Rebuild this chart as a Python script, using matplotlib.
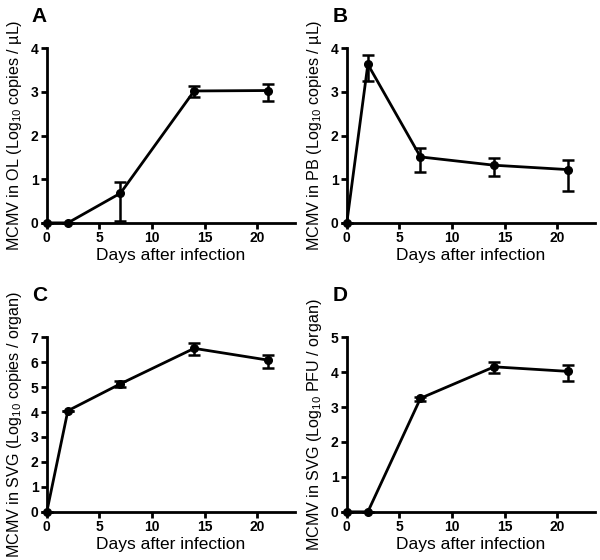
import matplotlib
matplotlib.use("Agg")
import matplotlib.pyplot as plt

plt.rcParams['font.family'] = ['Liberation Sans', 'DejaVu Sans']
plt.rcParams['mathtext.fontset'] = 'custom'
plt.rcParams['mathtext.rm'] = 'Liberation Sans'

days = [0, 2, 7, 14, 21]

# A: oral lavage
ol_mean = [0, 0, 0.68, 3.02, 3.03]
ol_lo = [0, 0, 0.63, 0.14, 0.25]
ol_hi = [0, 0, 0.25, 0.11, 0.16]

# B: peripheral blood
pb_mean = [0, 3.63, 1.51, 1.32, 1.22]
pb_lo = [0, 0.39, 0.35, 0.25, 0.50]
pb_hi = [0, 0.21, 0.20, 0.17, 0.23]

# C: SVG copies
svg_mean = [0, 4.05, 5.13, 6.55, 6.08]
svg_lo = [0, 0, 0.13, 0.27, 0.33]
svg_hi = [0, 0, 0.12, 0.20, 0.22]

# D: SVG PFU
pfu_mean = [0, 0, 3.25, 4.15, 4.02]
pfu_lo = [0, 0, 0.08, 0.18, 0.27]
pfu_hi = [0, 0, 0.05, 0.13, 0.18]

panels = [
    ('A', ol_mean, ol_lo, ol_hi, 4, 'MCMV in OL (Log$_{\\mathrm{10}}$ copies / µL)'),
    ('B', pb_mean, pb_lo, pb_hi, 4, 'MCMV in PB (Log$_{\\mathrm{10}}$ copies / µL)'),
    ('C', svg_mean, svg_lo, svg_hi, 7, 'MCMV in SVG (Log$_{\\mathrm{10}}$ copies / organ)'),
    ('D', pfu_mean, pfu_lo, pfu_hi, 5, 'MCMV in SVG (Log$_{\\mathrm{10}}$ PFU / organ)'),
]

fig = plt.figure(figsize=(6, 5.6), dpi=100)
boxes = [
    [0.078, 0.602, 0.414, 0.312],
    [0.578, 0.602, 0.414, 0.312],
    [0.078, 0.086, 0.414, 0.312],
    [0.578, 0.086, 0.414, 0.312],
]
letter_pos = [(0.053, 0.988), (0.555, 0.988), (0.053, 0.49), (0.555, 0.49)]

for box, lp, (letter, mean, lo, hi, ymax, ylab) in zip(boxes, letter_pos, panels):
    ax = fig.add_axes(box)
    ax.errorbar(days, mean, yerr=[lo, hi], color='black', lw=2,
                marker='o', ms=5.5, capsize=4, capthick=1.8, elinewidth=1.8,
                clip_on=False, zorder=3)
    ax.set_xlim(0, 23.6)
    ax.set_ylim(0, ymax)
    ax.set_xticks([0, 5, 10, 15, 20])
    ax.set_yticks(range(ymax + 1))
    for s in ['top', 'right']:
        ax.spines[s].set_visible(False)
    for s in ['left', 'bottom']:
        ax.spines[s].set_linewidth(2)
    ax.tick_params(width=2, length=4, labelsize=10, pad=2)
    for t in ax.get_xticklabels() + ax.get_yticklabels():
        t.set_fontweight('bold')
    ax.set_xlabel('Days after infection', fontsize=12.5, labelpad=2)
    ax.set_ylabel(ylab, fontsize=11.6, labelpad=4.5)
    fig.text(lp[0], lp[1], letter, fontsize=15, fontweight='bold',
             va='top', ha='left')

fig.savefig('out.png', dpi=100)
